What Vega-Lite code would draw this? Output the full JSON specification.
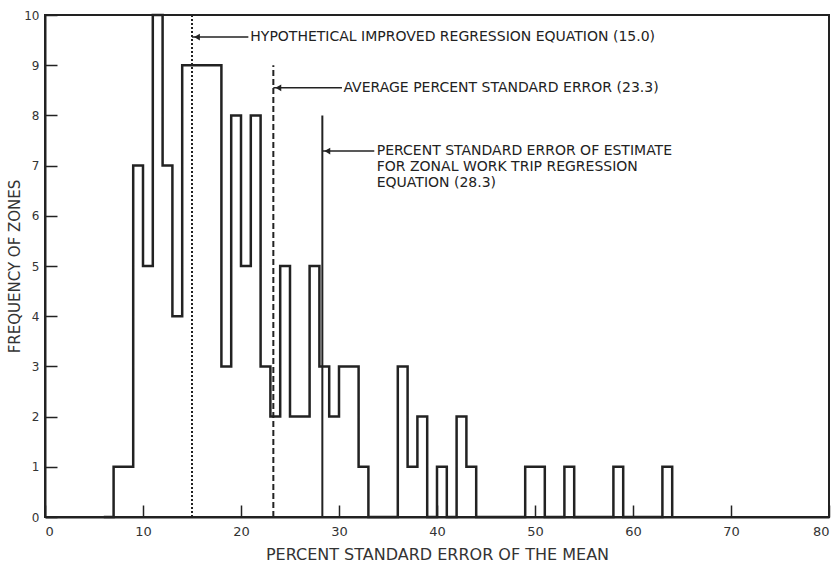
{
  "$schema": "https://vega.github.io/schema/vega-lite/v6.json",
  "width": 784,
  "height": 502,
  "autosize": "none",
  "padding": {"left": 45, "top": 15, "right": 11, "bottom": 47},
  "background": "white",
  "config": {
    "view": {"stroke": "#222", "strokeWidth": 2},
    "font": "DejaVu Sans",
    "axis": {
      "domainColor": "#222", "domainWidth": 2, "tickColor": "#222", "tickWidth": 1.5,
      "labelColor": "#333", "titleColor": "#333", "labelFont": "DejaVu Sans", "titleFont": "DejaVu Sans",
      "labelFontSize": 13, "titleFontSize": 16, "titleFontWeight": "normal", "grid": false
    }
  },
  "datasets": {
    "hist": [
      {"start": 6, "count": 0}, {"start": 7, "count": 1}, {"start": 8, "count": 1}, {"start": 9, "count": 7},
      {"start": 10, "count": 5}, {"start": 11, "count": 10}, {"start": 12, "count": 7}, {"start": 13, "count": 4},
      {"start": 14, "count": 9}, {"start": 15, "count": 9}, {"start": 16, "count": 9}, {"start": 17, "count": 9},
      {"start": 18, "count": 3}, {"start": 19, "count": 8}, {"start": 20, "count": 5}, {"start": 21, "count": 8},
      {"start": 22, "count": 3}, {"start": 23, "count": 2}, {"start": 24, "count": 5}, {"start": 25, "count": 2},
      {"start": 26, "count": 2}, {"start": 27, "count": 5}, {"start": 28, "count": 3}, {"start": 29, "count": 2},
      {"start": 30, "count": 3}, {"start": 31, "count": 3}, {"start": 32, "count": 1}, {"start": 33, "count": 0},
      {"start": 34, "count": 0}, {"start": 35, "count": 0}, {"start": 36, "count": 3}, {"start": 37, "count": 1},
      {"start": 38, "count": 2}, {"start": 39, "count": 0}, {"start": 40, "count": 1}, {"start": 41, "count": 0},
      {"start": 42, "count": 2}, {"start": 43, "count": 1}, {"start": 44, "count": 0}, {"start": 45, "count": 0},
      {"start": 46, "count": 0}, {"start": 47, "count": 0}, {"start": 48, "count": 0}, {"start": 49, "count": 1},
      {"start": 50, "count": 1}, {"start": 51, "count": 0}, {"start": 52, "count": 0}, {"start": 53, "count": 1},
      {"start": 54, "count": 0}, {"start": 55, "count": 0}, {"start": 56, "count": 0}, {"start": 57, "count": 0},
      {"start": 58, "count": 1}, {"start": 59, "count": 0}, {"start": 60, "count": 0}, {"start": 61, "count": 0},
      {"start": 62, "count": 0}, {"start": 63, "count": 1}, {"start": 64, "count": 0}
    ],
    "refs": [
      {"value": 15.0, "bottom": 0, "top": 10, "kind": "improved"},
      {"value": 23.3, "bottom": 0, "top": 9, "kind": "average"},
      {"value": 28.3, "bottom": 0, "top": 8, "kind": "estimate"}
    ],
    "notes": [
      {"x": 15.0, "tail": 20.75, "y": 9.56, "tx": 20.95, "label": "HYPOTHETICAL IMPROVED REGRESSION EQUATION (15.0)"},
      {"x": 23.3, "tail": 30.3, "y": 8.55, "tx": 30.45, "label": "AVERAGE PERCENT STANDARD ERROR (23.3)"},
      {"x": 28.3, "tail": 33.6, "y": 7.29, "tx": 33.85, "label": "PERCENT STANDARD ERROR OF ESTIMATE\nFOR ZONAL WORK TRIP REGRESSION\nEQUATION (28.3)"}
    ]
  },
  "layer": [
    {
      "data": {"name": "hist"},
      "mark": {"type": "line", "interpolate": "step-after", "color": "#222", "strokeWidth": 2.5},
      "encoding": {
        "x": {"field": "start", "type": "quantitative", "scale": {"domain": [0, 80], "nice": false},
          "axis": {"values": [0,10,20,30,40,50,60,70,80], "tickSize": -12, "labelPadding": 20, "title": "PERCENT STANDARD ERROR OF THE MEAN", "titlePadding": 8}},
        "y": {"field": "count", "type": "quantitative", "scale": {"domain": [0, 10], "nice": false},
          "axis": {"values": [0,1,2,3,4,5,6,7,8,9,10], "tickSize": -12, "labelPadding": 18, "labelFontSize": 12, "title": "FREQUENCY OF ZONES", "titleFontSize": 15, "titleX": -31, "titleY": 251, "titleBaseline": "middle", "titleAngle": -90}}
      }
    },
    {
      "data": {"name": "refs"},
      "transform": [{"filter": "datum.kind === 'improved'"}],
      "mark": {"type": "rule", "color": "#222", "strokeWidth": 2, "strokeDash": [2, 2]},
      "encoding": {
        "x": {"field": "value", "type": "quantitative"},
        "y": {"field": "bottom", "type": "quantitative"},
        "y2": {"field": "top"}
      }
    },
    {
      "data": {"name": "refs"},
      "transform": [{"filter": "datum.kind === 'average'"}],
      "mark": {"type": "rule", "color": "#222", "strokeWidth": 2, "strokeDash": [6, 3]},
      "encoding": {
        "x": {"field": "value", "type": "quantitative"},
        "y": {"field": "bottom", "type": "quantitative"},
        "y2": {"field": "top"}
      }
    },
    {
      "data": {"name": "refs"},
      "transform": [{"filter": "datum.kind === 'estimate'"}],
      "mark": {"type": "rule", "color": "#222", "strokeWidth": 2},
      "encoding": {
        "x": {"field": "value", "type": "quantitative"},
        "y": {"field": "bottom", "type": "quantitative"},
        "y2": {"field": "top"}
      }
    },
    {
      "data": {"name": "notes"},
      "mark": {"type": "rule", "color": "#222", "strokeWidth": 1.5},
      "encoding": {
        "x": {"field": "x", "type": "quantitative"},
        "x2": {"field": "tail"},
        "y": {"field": "y", "type": "quantitative"}
      }
    },
    {
      "data": {"name": "notes"},
      "mark": {"type": "point", "shape": "triangle-left", "filled": true, "color": "#222", "size": 45, "opacity": 1, "xOffset": 5},
      "encoding": {
        "x": {"field": "x", "type": "quantitative"},
        "y": {"field": "y", "type": "quantitative"}
      }
    },
    {
      "data": {"name": "notes"},
      "mark": {"type": "text", "align": "left", "baseline": "middle", "fontSize": 14, "color": "#222", "lineBreak": "\n", "lineHeight": 16, "font": "DejaVu Sans"},
      "encoding": {
        "x": {"field": "tx", "type": "quantitative"},
        "y": {"field": "y", "type": "quantitative"},
        "text": {"field": "label"}
      }
    }
  ]
}
